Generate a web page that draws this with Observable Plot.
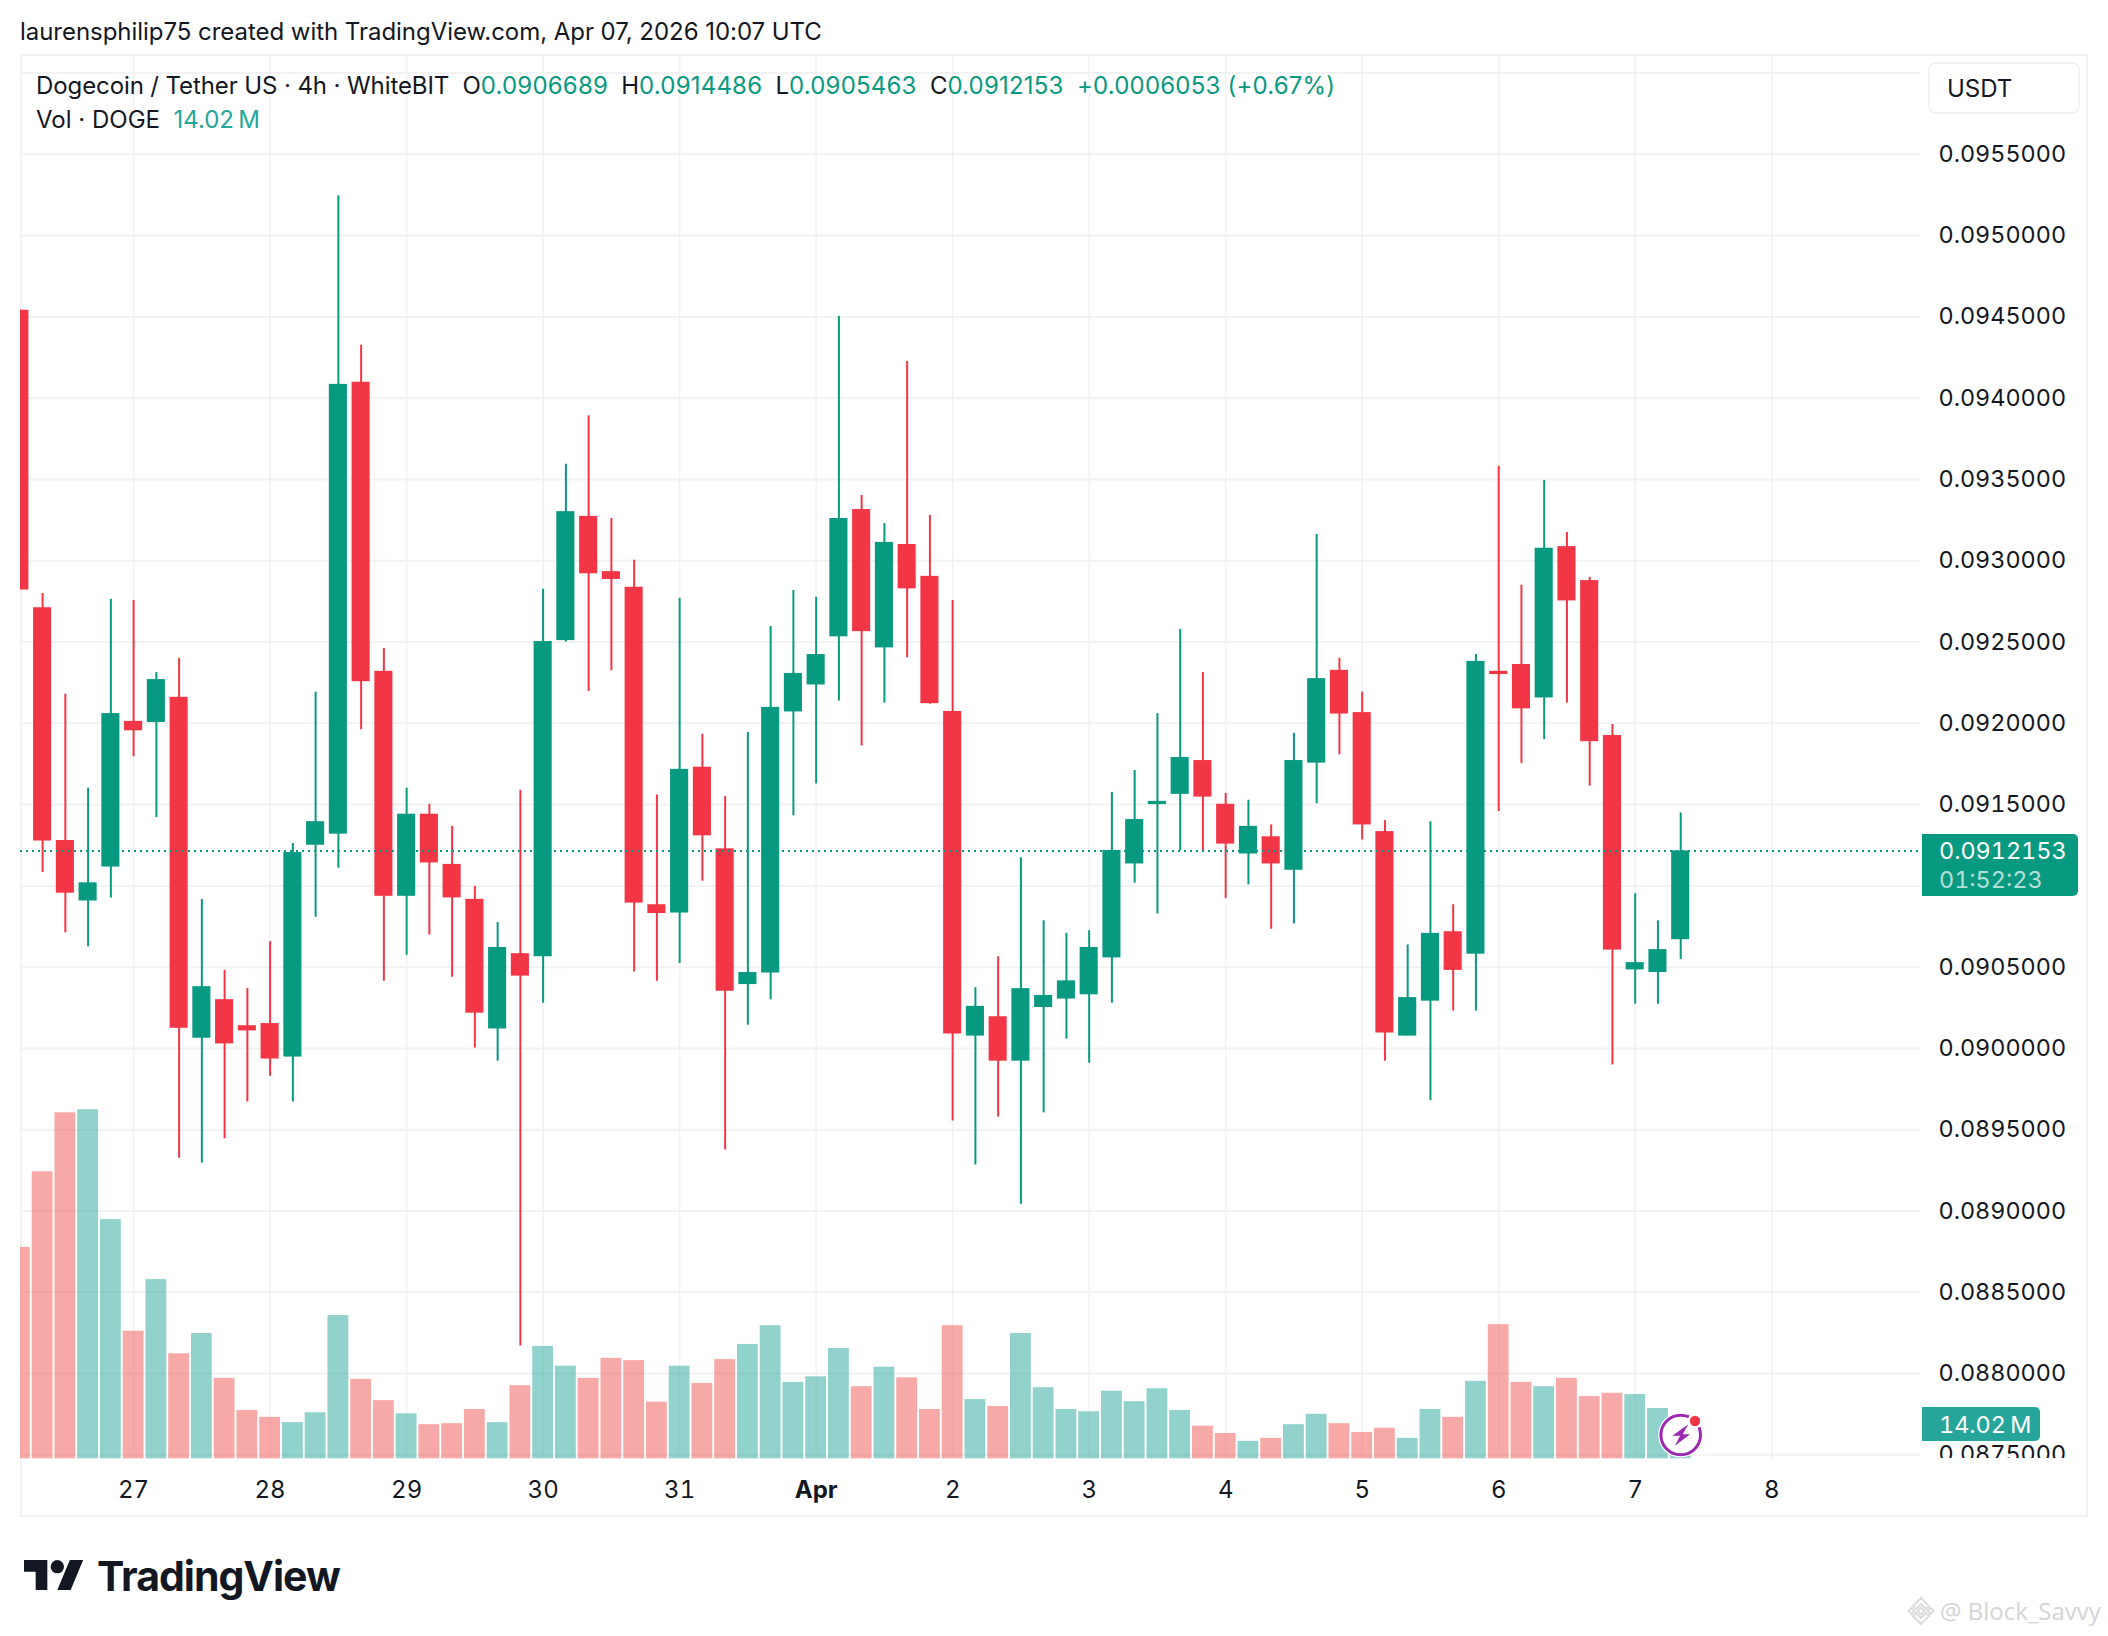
<!DOCTYPE html>
<html><head><meta charset="utf-8">
<script src="https://cdn.jsdelivr.net/npm/d3@7"></script>
<script src="https://cdn.jsdelivr.net/npm/@observablehq/plot@0.6"></script>
<style>
html,body{margin:0;padding:0;background:#fff;}
#page{position:relative;width:2108px;height:1636px;overflow:hidden;font-family:Inter,"Noto Sans",sans-serif;color:#131722;background:#fff;}
#page>svg{display:block;position:relative;}
.abs{position:absolute;white-space:pre;line-height:1;}
.g{color:#089981;letter-spacing:.2px;}
</style></head><body><div id="page"></div>
<script>
const opens=[.094541,.092711,.091279,.090907,.091116,.092012,.092005,.09216,.090063,.0903,.09014,.090153,.089947,.09125,.091318,.094098,.09232,.090936,.091441,.091132,.090917,.09012,.090583,.090564,.092509,.093273,.092933,.092837,.090884,.090833,.09173,.091228,.090393,.090464,.09207,.092236,.092532,.093315,.092464,.0931,.092904,.092073,.090076,.090195,.089922,.090252,.090304,.09033,.090557,.091135,.0915,.091563,.091771,.091502,.091196,.091302,.091096,.091755,.092326,.092066,.091334,.090076,.090291,.090718,.09058,.09232,.092362,.092156,.093087,.092878,.091925,.090483,.090467,.0906689];
const closes=[.09282,.091276,.090955,.091019,.09206,.091954,.092269,.090124,.09038,.090028,.090108,.089935,.091205,.091395,.094085,.092256,.090936,.091441,.091141,.090926,.090217,.090621,.090445,.092503,.093302,.09292,.092885,.090894,.09083,.091717,.091308,.090352,.090467,.092098,.092307,.092423,.09326,.092564,.093113,.092827,.092121,.090089,.090259,.089922,.090368,.090326,.090416,.090621,.091218,.091408,.09152,.09179,.091546,.091257,.091366,.091135,.091771,.092275,.092057,.091375,.090095,.090313,.090708,.09048,.092381,.0923,.092089,.093077,.092753,.091887,.090605,.090528,.090608,.0912153];
const highs=[.094541,.092798,.092179,.091601,.092763,.092756,.092313,.0924,.090917,.09048,.090368,.090657,.09126,.092192,.095246,.094325,.092461,.091601,.091502,.091366,.090997,.090775,.091588,.092824,.093594,.093892,.09326,.093003,.091559,.09277,.091932,.09155,.091944,.092596,.092817,.092776,.094502,.093401,.093228,.094226,.093279,.092756,.090374,.090564,.091173,.090785,.090708,.090724,.091575,.09171,.09206,.092577,.092313,.091569,.091527,.091375,.091938,.093161,.0924,.092192,.091401,.090637,.091395,.090884,.092423,.093581,.09285,.093494,.093173,.092898,.091993,.090952,.090785,.0914486];
const lows=[.09282,.091083,.090711,.090625,.090926,.091794,.09142,.089325,.089296,.089444,.089671,.089829,.089671,.090807,.091109,.09196,.090413,.090573,.090698,.090438,.090002,.089922,.08817,.090278,.0925,.092195,.092323,.09047,.090413,.090522,.091029,.089376,.090143,.0903,.091431,.091627,.092137,.091861,.092124,.092403,.092118,.089553,.089283,.089578,.089042,.089604,.090057,.089909,.090278,.091016,.090827,.091215,.091215,.090923,.091006,.090734,.090766,.091505,.091806,.091282,.089922,.090076,.089678,.09023,.09023,.091457,.091752,.0919,.092124,.091614,.089899,.090272,.090272,.0905463];
const volumesM=[83.6,113.5,136.8,138.0,94.6,50.5,70.9,41.6,49.6,31.9,19.2,16.5,14.4,18.3,56.7,31.5,23.1,17.9,13.6,14.0,19.6,14.4,29.0,44.5,36.7,31.9,39.8,38.9,22.5,36.7,29.9,39.3,45.3,52.7,30.3,32.5,43.7,28.6,36.3,32.1,19.6,52.7,23.5,20.8,49.6,28.2,19.6,18.7,26.8,22.7,27.8,19.2,13.0,10.1,7.0,8.2,13.6,17.7,14.0,10.5,12.2,8.2,19.6,16.5,30.7,53.1,30.3,28.6,31.9,24.7,26.0,25.5,20.0,14.02];
const priceTicks=[.0875,.088,.0885,.089,.0895,.09,.0905,.0915,.092,.0925,.093,.0935,.094,.0945,.095,.0955];
const gridPrices=[...priceTicks,.091,.096];
const dayLabels=[[2026,2,27,"27"],[2026,2,28,"28"],[2026,2,29,"29"],[2026,2,30,"30"],[2026,2,31,"31"],[2026,3,1,"Apr"],[2026,3,2,"2"],[2026,3,3,"3"],[2026,3,4,"4"],[2026,3,5,"5"],[2026,3,6,"6"],[2026,3,7,"7"],[2026,3,8,"8"]];
const lastPrice=.0912153;

const HOUR=36e5, DAY=24*HOUR;
const firstCandle=Date.UTC(2026,2,26,4);
const day27=Date.UTC(2026,2,27);
const xDomain=[new Date(day27-0.8286*DAY),new Date(day27+13.09*DAY)];
const yDomain=[.087474,.096108];
const GREEN="#089981",RED="#F23645",VGREEN="#26a69a",VRED="#ef5350",GRID="#f2f2f2";
const volToPrice=d3.scaleLinear([0,138],[.087474,.089623]);
const rows=opens.map((o,i)=>{const t=firstCandle+i*4*HOUR;return{
  t:new Date(t),b1:new Date(t-1.59*HOUR),b2:new Date(t+1.59*HOUR),
  v1:new Date(t-1.83*HOUR),v2:new Date(t+1.83*HOUR),
  open:o,close:closes[i],high:highs[i],low:lows[i],vol:volumesM[i],volTop:volToPrice(volumesM[i]),up:closes[i]>=o};});
const ups=rows.filter(d=>d.up),downs=rows.filter(d=>!d.up);
const ticks=dayLabels.map(([y,m,d,label])=>({date:new Date(Date.UTC(y,m,d)),label}));
const labelFor=new Map(ticks.map(d=>[+d.date,d.label]));
const normalTicks=ticks.filter(d=>d.label!=="Apr").map(d=>d.date);
const boldTicks=ticks.filter(d=>d.label==="Apr").map(d=>d.date);

const chart=Plot.plot({
  width:2108,height:1636,
  marginLeft:20,marginRight:188,marginTop:55,marginBottom:177.4,
  style:{background:"transparent",color:"#131722",fontFamily:"Inter,'Noto Sans',sans-serif",overflow:"visible"},
  x:{type:"utc",domain:xDomain,axis:null},
  y:{domain:yDomain,axis:null},
  marks:[
    Plot.ruleY(gridPrices,{stroke:GRID,strokeWidth:2}),
    Plot.ruleX(ticks,{x:"date",stroke:GRID,strokeWidth:1.5}),
    Plot.rect(downs,{x1:"v1",x2:"v2",y1:yDomain[0],y2:"volTop",fill:VRED,fillOpacity:.5,clip:true}),
    Plot.rect(ups,{x1:"v1",x2:"v2",y1:yDomain[0],y2:"volTop",fill:VGREEN,fillOpacity:.5,clip:true}),
    Plot.ruleX(downs,{x:"t",y1:"low",y2:"high",stroke:RED,strokeWidth:2,clip:true}),
    Plot.ruleX(ups,{x:"t",y1:"low",y2:"high",stroke:GREEN,strokeWidth:2,clip:true}),
    Plot.rect(downs,{x1:"b1",x2:"b2",y1:"open",y2:"close",fill:RED,clip:true}),
    Plot.rect(ups,{x1:"b1",x2:"b2",y1:"open",y2:"close",fill:GREEN,clip:true}),
    Plot.ruleY([lastPrice],{stroke:GREEN,strokeWidth:2,strokeDasharray:"2 4"}),
    Plot.axisY({ticks:priceTicks,anchor:"right",tickSize:0,tickPadding:18,textAnchor:"start",fontSize:23.4,label:null,tickFormat:d=>d.toFixed(7)}),
    Plot.axisX({ticks:normalTicks,anchor:"bottom",tickSize:0,tickPadding:22,fontSize:24,label:null,tickFormat:d=>labelFor.get(+d)}),
    Plot.axisX({ticks:boldTicks,anchor:"bottom",tickSize:0,tickPadding:22,fontSize:24,fontWeight:700,label:null,tickFormat:d=>labelFor.get(+d)})
  ]
});
const page=document.getElementById("page");
function add(html,css){const e=document.createElement("div");e.className="abs";e.style.cssText=css;e.innerHTML=html;page.appendChild(e);return e;}
// frame sits under the chart
add("","left:20px;top:54px;width:2068px;height:1463px;border:2px solid #f2f2f2;box-sizing:border-box;");
page.appendChild(chart);
// cover cutting the lowest price label at the pane edge
add("","left:1925px;top:1458px;width:160px;height:30px;background:#fff;");
// texts
add("laurensphilip75 created with TradingView.com, Apr 07, 2026 10:07 UTC","left:20px;top:20px;font-size:24px;letter-spacing:-.04px;");
add('Dogecoin / Tether US · 4h · WhiteBIT  O<span class="g">0.0906689</span>  H<span class="g">0.0914486</span>  L<span class="g">0.0905463</span>  C<span class="g">0.0912153</span>  <span class="g">+0.0006053 (+0.67%)</span>',"left:36px;top:74px;font-size:24px;letter-spacing:-.1px;");
add('Vol · DOGE  <span style="color:#26a69a">14.02\u2009M</span>',"left:36px;top:108px;font-size:24px;");
add("USDT","left:1928px;top:62px;width:152px;height:52px;box-sizing:border-box;border:2px solid #f2f2f2;border-radius:8px;background:#fff;font-size:24px;padding:13px 0 0 17px;");
add('0.0912153<br><span style="color:rgba(255,255,255,.7)">01:52:23</span>',"left:1922px;top:834px;width:156px;height:62px;box-sizing:border-box;background:#089981;border-radius:0 5px 5px 0;color:#fff;font-size:23.4px;font-variant-numeric:tabular-nums;line-height:29px;padding:2px 0 0 17px;");
add("14.02\u2009M","left:1922px;top:1407px;width:118px;height:34px;box-sizing:border-box;background:#26a69a;border-radius:0 5px 5px 0;color:#fff;font-size:23.4px;font-variant-numeric:tabular-nums;padding:6px 0 0 17px;");
// logo
add('<svg width="60" height="30" viewBox="0 4 36 18" preserveAspectRatio="none" style="display:block"><path fill="#131722" d="M14 22H7V11H0V4h14v18zM28 22h-8l7.5-18h8L28 22z"/><circle fill="#131722" cx="20" cy="8" r="4"/></svg>',"left:24px;top:1560px;");
add("TradingView","left:97px;top:1556px;font-size:41px;font-weight:700;letter-spacing:-1px;color:#131722;");
// lightning badge
add('<svg width="48" height="48" viewBox="0 0 48 48" style="display:block"><circle cx="23.7" cy="24" r="22.5" fill="#fff"/><circle cx="23.7" cy="24" r="19.8" fill="#fff" stroke="#9c27b0" stroke-width="3"/><path d="M31.3 13.3 L15.3 24.7 H23 L18 34.7 L33 23.3 H25.7Z" fill="#9c27b0"/><circle cx="38" cy="10" r="7.5" fill="#fff"/><circle cx="38" cy="10" r="5.2" fill="#f23645"/></svg>',"left:1657px;top:1411px;");
// watermark
add('<svg width="30" height="30" viewBox="0 0 30 30" style="display:block"><g fill="none" stroke="#dcdcdc" stroke-width="2"><path d="M15 2 L23 10 L20 13 L15 8 L10 13 L7 10Z"/><path d="M15 28 L23 20 L20 17 L15 22 L10 17 L7 20Z"/><path d="M15 11.5 L18.5 15 L15 18.5 L11.5 15Z"/><path d="M5.5 12 L8.5 15 L5.5 18 L2.5 15Z"/><path d="M24.5 12 L27.5 15 L24.5 18 L21.5 15Z"/></g></svg>',"left:1906px;top:1596px;");
add("@ Block_Savvy","left:1940px;top:1599px;font-size:24px;font-family:'Open Sans',sans-serif;color:#d4d4d4;");
</script></body></html>
